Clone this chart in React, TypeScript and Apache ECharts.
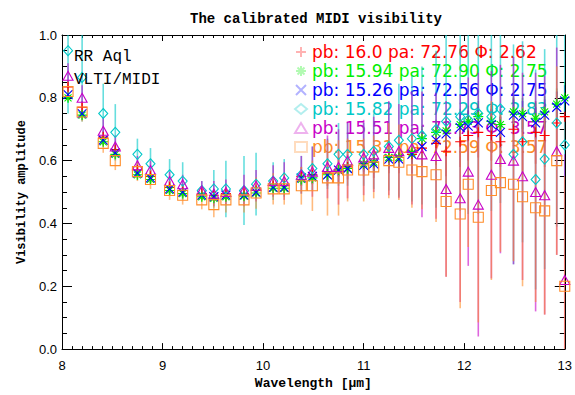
import React, { useEffect, useRef } from 'react';
import * as echarts from 'echarts';

// ---------- data ----------
const wavelengths = [
  8.06, 8.2, 8.41, 8.53, 8.75, 8.88, 9.07, 9.2, 9.39, 9.51, 9.63, 9.81, 9.93,
  10.1, 10.21, 10.38, 10.49, 10.64, 10.75, 10.84, 11.0, 11.1, 11.25, 11.35,
  11.48, 11.58, 11.72, 11.82, 11.96, 12.04, 12.14, 12.27, 12.36, 12.49, 12.58,
  12.71, 12.8, 12.92, 13.0,
];

const seriesNames = [
  'pb: 16.0 pa: 72.76 Φ: 2.62',
  'pb: 15.94 pa: 72.90 Φ: 2.75',
  'pb: 15.26 pa: 72.56 Φ: 2.75',
  'pb: 15.82 pa: 72.29 Φ: 2.83',
  'pb: 15.51 pa: 72.73 Φ: 3.57',
  'pb: 15.31 pa: 72.59 Φ: 3.57',
];

const visRed = [
  0.835, 0.77, 0.675, 0.635, 0.57, 0.55, 0.515, 0.505, 0.495, 0.49, 0.495, 0.495, 0.505,
  0.52, 0.52, 0.55, 0.555, 0.56, 0.57, 0.58, 0.59, 0.595, 0.61, 0.61,
  0.62, 0.64, 0.655, 0.63, 0.66, 0.68, 0.69, 0.68, 0.66, 0.7, 0.66,
  0.69, 0.68, 0.72, 0.74,
];
const errRed = [
  0.02, 0.02, 0.02, 0.02, 0.02, 0.02, 0.02, 0.02, 0.02, 0.02, 0.02, 0.02, 0.02,
  0.02, 0.02, 0.03, 0.03, 0.04, 0.04, 0.04, 0.04, 0.05, 0.05, 0.05,
  0.06, 0.06, 0.07, 0.08, 0.08, 0.08, 0.08, 0.08, 0.08, 0.1, 0.1,
  0.1, 0.1, 0.1, 0.1,
];

const visGreen = [
  0.8, 0.745, 0.66, 0.62, 0.555, 0.54, 0.505, 0.495, 0.485, 0.48, 0.485, 0.487, 0.497,
  0.512, 0.512, 0.54, 0.545, 0.555, 0.57, 0.575, 0.59, 0.595, 0.61, 0.61,
  0.625, 0.67, 0.69, 0.695, 0.715, 0.725, 0.74, 0.725, 0.715, 0.755, 0.75,
  0.735, 0.755, 0.78, 0.8,
];
const errGreen = [
  0.015, 0.015, 0.015, 0.015, 0.015, 0.015, 0.015, 0.015, 0.015, 0.015, 0.015, 0.015, 0.015,
  0.015, 0.015, 0.02, 0.02, 0.02, 0.02, 0.02, 0.02, 0.03, 0.03, 0.03,
  0.03, 0.04, 0.04, 0.04, 0.05, 0.05, 0.05, 0.05, 0.05, 0.05, 0.05,
  0.05, 0.05, 0.05, 0.05,
];

const visBlue = [
  0.81, 0.75, 0.665, 0.625, 0.56, 0.545, 0.51, 0.5, 0.49, 0.485, 0.49, 0.49, 0.5,
  0.515, 0.515, 0.545, 0.55, 0.555, 0.57, 0.575, 0.585, 0.59, 0.605, 0.605,
  0.62, 0.645, 0.665, 0.685, 0.705, 0.71, 0.72, 0.715, 0.69, 0.745, 0.74,
  0.72, 0.745, 0.77, 0.79,
];
const errBlue = [
  0.015, 0.015, 0.015, 0.015, 0.015, 0.015, 0.015, 0.015, 0.015, 0.015, 0.015, 0.015, 0.015,
  0.015, 0.015, 0.02, 0.02, 0.02, 0.02, 0.02, 0.02, 0.03, 0.03, 0.03,
  0.03, 0.04, 0.04, 0.04, 0.05, 0.05, 0.05, 0.05, 0.05, 0.05, 0.05,
  0.05, 0.05, 0.05, 0.05,
];

const visCyan = [
  0.95, 0.865, 0.75, 0.69, 0.62, 0.59, 0.555, 0.535, 0.505, 0.51, 0.51, 0.505, 0.525,
  0.535, 0.545, 0.555, 0.575, 0.59, 0.62, 0.62, 0.62, 0.63, 0.645, 0.665,
  0.67, 0.68, 0.7, 0.725, 0.74, 0.73, 0.75, 0.74, 0.765, 0.62, 0.66,
  0.54, 0.605, 0.72, 0.65,
];
const errCyan = [
  0.2, 0.14, 0.095, 0.09, 0.05, 0.05, 0.05, 0.06, 0.03, 0.06, 0.09, 0.11, 0.1,
  0.06, 0.06, 0.06, 0.07, 0.08, 0.1, 0.1, 0.1, 0.12, 0.14, 0.18,
  0.2, 0.22, 0.25, 0.28, 0.3, 0.3, 0.32, 0.3, 0.3, 0.35, 0.32,
  0.35, 0.35, 0.33, 0.35,
];

const visMagenta = [
  0.87, 0.8, 0.695, 0.645, 0.585, 0.57, 0.535, 0.525, 0.505, 0.495, 0.5, 0.505, 0.52,
  0.535, 0.535, 0.555, 0.565, 0.58, 0.58, 0.6, 0.61, 0.62, 0.64, 0.63,
  0.64, 0.62, 0.615, 0.51, 0.48, 0.565, 0.46, 0.555, 0.605, 0.6, 0.55,
  0.5, 0.49, 0.63, 0.22,
];
const errMagenta = [
  0.04, 0.04, 0.04, 0.035, 0.03, 0.03, 0.03, 0.03, 0.03, 0.04, 0.04, 0.05, 0.05,
  0.05, 0.06, 0.06, 0.08, 0.1, 0.12, 0.12, 0.12, 0.12, 0.15, 0.15,
  0.18, 0.2, 0.2, 0.28, 0.33, 0.3, 0.42, 0.33, 0.3, 0.33, 0.33,
  0.38, 0.38, 0.33, 0.4,
];

const visOrange = [
  0.82, 0.755, 0.655, 0.6, 0.565, 0.54, 0.505, 0.49, 0.475, 0.46, 0.475, 0.475, 0.497,
  0.51, 0.51, 0.52, 0.52, 0.545, 0.545, 0.57, 0.57, 0.58, 0.6, 0.595,
  0.57, 0.565, 0.555, 0.47, 0.43, 0.525, 0.42, 0.505, 0.53, 0.525, 0.485,
  0.45, 0.44, 0.6, 0.2,
];
const errOrange = [
  0.03, 0.03, 0.03, 0.03, 0.03, 0.03, 0.03, 0.03, 0.03, 0.04, 0.04, 0.04, 0.05,
  0.05, 0.05, 0.06, 0.08, 0.12, 0.12, 0.1, 0.1, 0.1, 0.12, 0.12,
  0.12, 0.12, 0.15, 0.24, 0.3, 0.2, 0.335, 0.285, 0.22, 0.245, 0.285,
  0.3, 0.33, 0.3, 0.35,
];

const xTickLabels = ['8', '9', '10', '11', '12', '13'];
const yTickLabels = ['0.0', '0.2', '0.4', '0.6', '0.8', '1.0'];

// ---------- styles ----------
const seriesColors = ['#ff0000', '#00ee00', '#0000ff', '#00c8c8', '#c800c8', '#ff8c28'];
const PLUS = 'path://M5,0L5,10M0,5L10,5';
const CROSS = 'path://M0,0L10,10M10,0L0,10';
const STAR = 'path://M5,0L5,10M0,5L10,5M1.5,1.5L8.5,8.5M8.5,1.5L1.5,8.5';
const seriesSymbols = [PLUS, STAR, CROSS, 'diamond', 'triangle', 'rect'];
const seriesSizes: any[] = [10, 10, 9, [9, 10], [10, 9], 10];

const MONO = '"Liberation Mono", monospace';
const SANS = '"Liberation Sans", Arial, sans-serif';
const LEG = '"DejaVu Sans", sans-serif';

export default function App() {
  const ref = useRef<HTMLDivElement>(null);
  useEffect(() => {
    const chart = echarts.init(ref.current!, null, { renderer: 'svg' });
    const vis = [visRed, visGreen, visBlue, visCyan, visMagenta, visOrange];
    const errs = [errRed, errGreen, errBlue, errCyan, errMagenta, errOrange];

    const errSeries = vis.map((v, k) => ({
      type: 'custom',
      name: seriesNames[k] + ' err',
      xAxisIndex: 0,
      yAxisIndex: 0,
      clip: true,
      z: 2,
      silent: true,
      encode: { x: 0, y: [1, 2] },
      data: wavelengths.map((w, i) => [w, v[i] - errs[k][i], v[i] + errs[k][i]]),
      renderItem: (params: any, api: any) => {
        const p1 = api.coord([api.value(0), api.value(1)]);
        const p2 = api.coord([api.value(0), api.value(2)]);
        return {
          type: 'line',
          shape: { x1: p1[0], y1: p1[1], x2: p2[0], y2: p2[1] },
          style: { stroke: seriesColors[k], lineWidth: 1.6, opacity: 0.6 },
        };
      },
    }));

    const markSeries = vis.map((v, k) => ({
      type: 'scatter',
      name: seriesNames[k],
      xAxisIndex: 0,
      yAxisIndex: 0,
      clip: false,
      z: 3,
      symbol: seriesSymbols[k],
      symbolSize: seriesSizes[k],
      itemStyle: {
        color: 'rgba(0,0,0,0)',
        borderColor: seriesColors[k],
        borderWidth: 1.1,
        opacity: 1,
      },
      data: wavelengths.map((w, i) => [w, v[i]]),
    }));

    const tickCommon = (len: number, minorLen: number, split: number) => ({
      axisLine: { show: true, onZero: false, lineStyle: { color: '#000', width: 1 } },
      axisTick: { show: true, inside: true, length: len, lineStyle: { color: '#000', width: 1 } },
      minorTick: { show: true, splitNumber: split, length: minorLen, lineStyle: { color: '#000', width: 1 } },
      splitLine: { show: false },
      minorSplitLine: { show: false },
    });

    chart.setOption({
      animation: false,
      backgroundColor: '#fff',
      grid: { left: 62, right: 6, top: 35, bottom: 42, containLabel: false },
      graphic: [
        {
          type: 'text', x: 316, y: 19,
          style: { text: 'The calibrated MIDI visibility', font: `bold 14px ${MONO}`, fill: '#000', textAlign: 'center', textVerticalAlign: 'middle' },
        },
        {
          type: 'text', x: 74, y: 57, z: 10,
          style: { text: 'RR Aql', font: `16px ${MONO}`, fill: '#000', textAlign: 'left', textVerticalAlign: 'middle' },
        },
        {
          type: 'text', x: 74, y: 80, z: 10,
          style: { text: 'VLTI/MIDI', font: `16px ${MONO}`, fill: '#000', textAlign: 'left', textVerticalAlign: 'middle' },
        },
      ],
      legend: {
        orient: 'vertical',
        left: 289,
        top: 38,
        z: 1,
        itemGap: 1,
        itemWidth: 12,
        itemHeight: 10,
        selectedMode: false,
        data: seriesNames.map((n, k) => ({
          name: n,
          itemStyle: { opacity: 0.3 },
          textStyle: { color: seriesColors[k] },
        })),
        textStyle: { fontFamily: LEG, fontSize: 17, lineHeight: 18, padding: [0, 0, 0, 0] },
      },
      xAxis: [
        {
          type: 'value', min: 8, max: 13, interval: 1, position: 'bottom',
          ...tickCommon(6, 3, 10),
          axisLabel: {
            show: true, margin: 10, color: '#000', fontFamily: SANS, fontSize: 13,
            formatter: (val: number) => xTickLabels[Math.round(val - 8)] ?? '',
          },
          name: 'Wavelength [μm]',
          nameLocation: 'middle',
          nameGap: 25,
          nameTextStyle: { fontFamily: MONO, fontWeight: 'bold', fontSize: 13, color: '#000' },
        },
        {
          type: 'value', min: 8, max: 13, interval: 1, position: 'top',
          ...tickCommon(6, 3, 10),
          axisLabel: { show: false },
        },
      ],
      yAxis: [
        {
          type: 'value', min: 0, max: 1, interval: 0.2, position: 'left',
          ...tickCommon(10, 5, 4),
          axisLabel: {
            show: true, margin: 5, color: '#000', fontFamily: SANS, fontSize: 13,
            formatter: (val: number) => yTickLabels[Math.round(val * 5)] ?? '',
          },
          name: 'Visibility amplitude',
          nameLocation: 'middle',
          nameGap: 33,
          nameTextStyle: { fontFamily: MONO, fontWeight: 'bold', fontSize: 12, color: '#000' },
        },
        {
          type: 'value', min: 0, max: 1, interval: 0.2, position: 'right',
          ...tickCommon(10, 5, 4),
          axisLabel: { show: false },
        },
      ],
      series: [...errSeries, ...markSeries],
    });
    return () => chart.dispose();
  }, []);
  return (
    <div
      ref={ref}
      style={{ position: 'absolute', left: 0, top: 0, width: 575, height: 395 }}
    />
  );
}
